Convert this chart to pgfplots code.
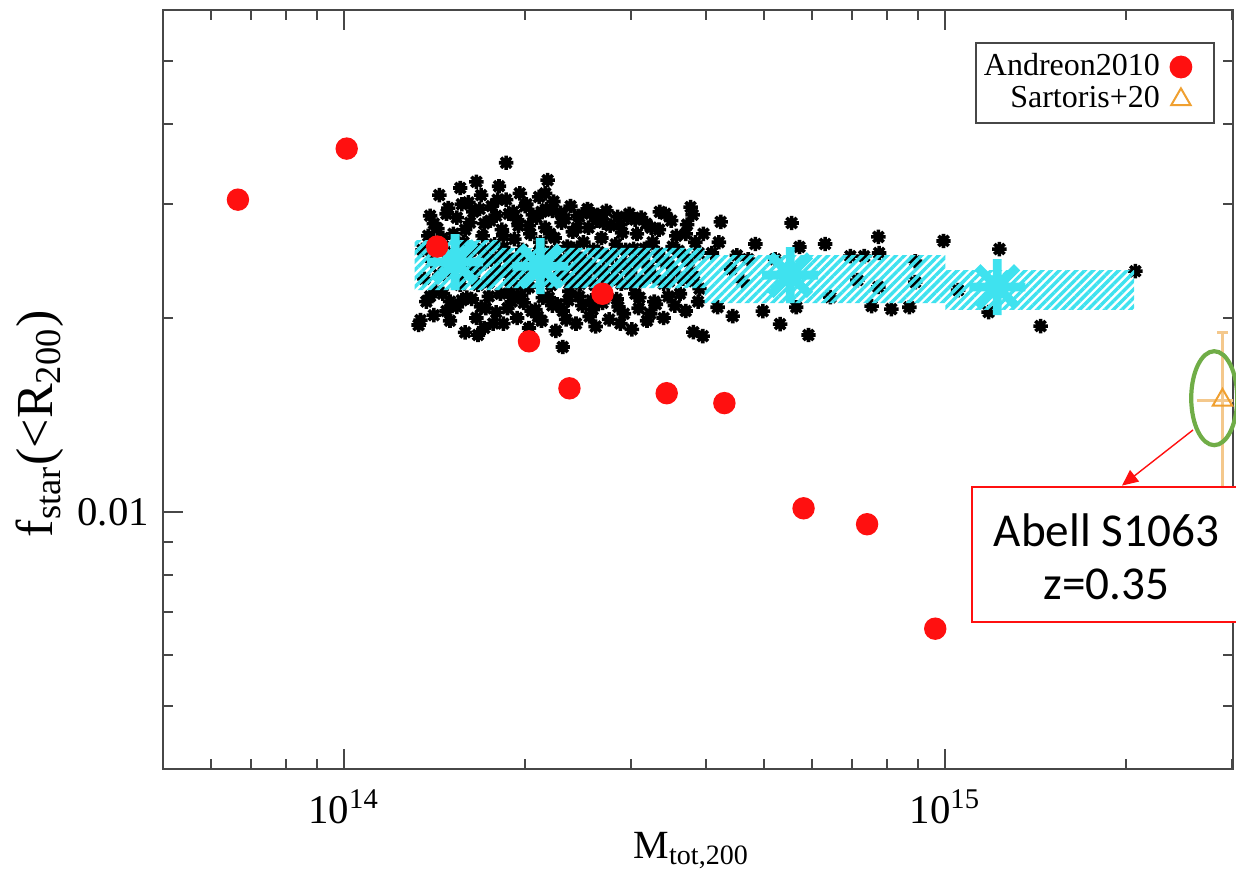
\documentclass[border=0pt]{standalone}
\usepackage{fontspec}
\setmainfont{Liberation Serif}
\newfontfamily\calibri{Carlito}
\usepackage{pgfplots}
\pgfplotsset{compat=1.18}
\usetikzlibrary{patterns.meta, arrows.meta}

\definecolor{ptred}{HTML}{FF1010}
\definecolor{ptcyan}{HTML}{3FE2EF}
\definecolor{ptorange}{HTML}{F0A030}
\definecolor{errorange}{HTML}{F4C88C}
\definecolor{ringgreen}{HTML}{70AD47}
\definecolor{axgray}{HTML}{474747}

% eight-armed asterisk (plus and cross overlaid)
\pgfdeclareplotmark{star8}{%
  \pgfpathmoveto{\pgfqpoint{0pt}{\pgfplotmarksize}}%
  \pgfpathlineto{\pgfqpoint{0pt}{-\pgfplotmarksize}}%
  \pgfpathmoveto{\pgfqpoint{\pgfplotmarksize}{0pt}}%
  \pgfpathlineto{\pgfqpoint{-\pgfplotmarksize}{0pt}}%
  \pgfpathmoveto{\pgfqpoint{0.7071\pgfplotmarksize}{0.7071\pgfplotmarksize}}%
  \pgfpathlineto{\pgfqpoint{-0.7071\pgfplotmarksize}{-0.7071\pgfplotmarksize}}%
  \pgfpathmoveto{\pgfqpoint{-0.7071\pgfplotmarksize}{0.7071\pgfplotmarksize}}%
  \pgfpathlineto{\pgfqpoint{0.7071\pgfplotmarksize}{-0.7071\pgfplotmarksize}}%
  \pgfusepathqstroke}

\begin{document}
\begin{tikzpicture}
\path[use as bounding box] (0pt,0pt) rectangle (309pt,220pt);
\clip (0pt,0pt) rectangle (309pt,220pt);
\begin{axis}[
  at={(40.75pt,27.75pt)}, anchor=south west,
  scale only axis, width=267.5pt, height=189.75pt,
  xmode=log, ymode=log,
  xmin=5e13, xmax=3.01e15, ymin=0.004, ymax=0.06,
  clip mode=individual,
  axis line style={axgray, line width=0.6pt},
  tick style={axgray, line width=0.5pt},
  major tick length=5pt, minor tick length=2.6pt,
  tick align=inside,
  xtick={1e14,1e15},
  xticklabels={10\textsuperscript{14},10\textsuperscript{15}},
  minor xtick={6e13,7e13,8e13,9e13,2e14,3e14,4e14,5e14,6e14,7e14,8e14,9e14,2e15,3e15},
  ytick={0.01}, yticklabels={0.01},
  minor ytick={0.005,0.006,0.007,0.008,0.009,0.02,0.03,0.04,0.05},
  tick label style={font=\fontsize{10.2}{12}\selectfont},
  xticklabel style={anchor=base, yshift=-13.5pt},
  xlabel={M\textsubscript{tot,200}},
  ylabel={f\textsubscript{star}(<R\textsubscript{200})},
  xlabel style={font=\fontsize{10}{12}\selectfont, at={(rel axis cs:0.494,-0.107)}, anchor=center},
  ylabel style={font=\fontsize{13}{15}\selectfont, at={(rel axis cs:-0.115,0.455)}, anchor=center},
  legend plot pos=right,
  legend cell align=right,
  legend image code/.code={\path (-4pt,0pt) (7pt,0pt); \draw[#1] plot coordinates {(0pt,0pt)};},
  legend style={at={(rel axis cs:0.983,0.958)}, anchor=north east,
    draw=axgray, line width=0.5pt, font=\fontsize{8}{8}\selectfont,
    inner xsep=1pt, inner ysep=1.5pt, row sep=-0.8pt,
    nodes={inner sep=1pt}},
]

% simulated clusters
\addplot[only marks, mark=star8, mark size=1.8pt, black, line width=0.9pt, forget plot] table {
x y
1.35e14 0.0255
1.36e14 0.0230
1.38e14 0.0268
1.40e14 0.0245
1.42e14 0.0220
1.43e14 0.0275
1.45e14 0.0258
1.47e14 0.0236
1.48e14 0.0290
1.50e14 0.0212
1.52e14 0.0270
1.53e14 0.0248
1.55e14 0.0228
1.57e14 0.0300
1.58e14 0.0262
1.60e14 0.0215
1.62e14 0.0281
1.63e14 0.0240
1.65e14 0.0256
1.67e14 0.0225
1.68e14 0.0295
1.70e14 0.0268
1.72e14 0.0207
1.73e14 0.0245
1.75e14 0.0283
1.77e14 0.0232
1.78e14 0.0260
1.80e14 0.0305
1.82e14 0.0218
1.83e14 0.0274
1.85e14 0.0250
1.87e14 0.0236
1.88e14 0.0290
1.90e14 0.0212
1.92e14 0.0265
1.93e14 0.0243
1.95e14 0.0278
1.97e14 0.0225
1.98e14 0.0255
2.00e14 0.0298
2.02e14 0.0230
2.04e14 0.0270
2.05e14 0.0205
2.07e14 0.0248
2.09e14 0.0286
2.10e14 0.0238
2.12e14 0.0262
2.14e14 0.0215
2.16e14 0.0276
2.18e14 0.0252
2.20e14 0.0228
2.22e14 0.0293
2.24e14 0.0266
2.26e14 0.0210
2.28e14 0.0244
2.30e14 0.0281
2.32e14 0.0233
2.35e14 0.0258
2.37e14 0.0220
2.40e14 0.0272
2.42e14 0.0249
2.45e14 0.0288
2.47e14 0.0226
2.50e14 0.0262
2.52e14 0.0240
2.55e14 0.0276
2.58e14 0.0213
2.60e14 0.0255
2.63e14 0.0283
2.66e14 0.0235
2.68e14 0.0266
2.71e14 0.0222
2.74e14 0.0248
2.77e14 0.0278
2.80e14 0.0230
2.83e14 0.0260
2.86e14 0.0208
2.90e14 0.0271
2.93e14 0.0243
2.96e14 0.0286
3.00e14 0.0226
3.03e14 0.0256
3.07e14 0.0270
3.10e14 0.0215
3.14e14 0.0248
3.18e14 0.0280
3.22e14 0.0232
3.26e14 0.0262
3.30e14 0.0210
3.34e14 0.0274
3.38e14 0.0245
3.42e14 0.0290
3.47e14 0.0228
3.52e14 0.0258
3.57e14 0.0268
3.62e14 0.0218
3.67e14 0.0250
3.72e14 0.0279
3.78e14 0.0235
3.84e14 0.0262
3.90e14 0.0222
3.96e14 0.0270
1.44e14 0.0233
1.49e14 0.0252
1.51e14 0.0240
1.56e14 0.0225
1.61e14 0.0250
1.64e14 0.0233
1.69e14 0.0242
1.71e14 0.0255
1.74e14 0.0227
1.79e14 0.0247
1.81e14 0.0236
1.84e14 0.0257
1.89e14 0.0228
1.91e14 0.0246
1.96e14 0.0236
1.99e14 0.0250
2.03e14 0.0223
2.06e14 0.0240
2.11e14 0.0253
2.13e14 0.0232
2.17e14 0.0244
2.21e14 0.0225
2.25e14 0.0254
2.29e14 0.0235
2.33e14 0.0246
2.38e14 0.0228
2.41e14 0.0256
2.44e14 0.0238
2.48e14 0.0247
2.53e14 0.0230
2.57e14 0.0242
2.61e14 0.0225
2.65e14 0.0253
2.70e14 0.0237
2.75e14 0.0228
2.79e14 0.0250
2.84e14 0.0239
2.89e14 0.0226
2.94e14 0.0255
2.99e14 0.0235
3.05e14 0.0245
3.11e14 0.0228
3.16e14 0.0256
3.21e14 0.0240
3.28e14 0.0232
3.33e14 0.0252
3.40e14 0.0226
3.45e14 0.0244
3.53e14 0.0236
3.60e14 0.0254
3.66e14 0.0230
3.74e14 0.0245
3.82e14 0.0228
3.89e14 0.0252
1.41e14 0.0280
1.46e14 0.0266
1.54e14 0.0286
1.59e14 0.0274
1.64e14 0.0292
1.71e14 0.0280
1.79e14 0.0288
1.84e14 0.0268
1.94e14 0.0284
2.03e14 0.0278
2.13e14 0.0292
2.20e14 0.0270
2.33e14 0.0285
2.44e14 0.0276
2.57e14 0.0290
2.70e14 0.0281
2.88e14 0.0279
3.05e14 0.0284
3.24e14 0.0276
3.50e14 0.0283
3.70e14 0.0270
1.39e14 0.0216
1.48e14 0.0205
1.57e14 0.0213
1.69e14 0.0208
1.77e14 0.0196
1.87e14 0.0207
1.97e14 0.0217
2.10e14 0.0201
2.22e14 0.0209
2.34e14 0.0199
2.46e14 0.0216
2.59e14 0.0206
2.73e14 0.0217
2.88e14 0.0196
3.05e14 0.0218
3.23e14 0.0203
3.46e14 0.0216
3.70e14 0.0205
3.88e14 0.0212
1.33e14 0.0195
1.37e14 0.0212
1.41e14 0.0202
1.46e14 0.0218
1.50e14 0.0198
1.54e14 0.0208
1.59e14 0.0190
1.63e14 0.0214
1.66e14 0.0200
1.71e14 0.0193
1.74e14 0.0216
1.79e14 0.0204
1.84e14 0.0196
1.89e14 0.0219
1.94e14 0.0200
1.99e14 0.0211
2.03e14 0.0193
2.08e14 0.0206
2.13e14 0.0198
2.19e14 0.0215
2.25e14 0.0191
2.31e14 0.0205
2.36e14 0.0213
2.43e14 0.0196
2.49e14 0.0209
2.56e14 0.0201
2.62e14 0.0194
2.69e14 0.0211
2.76e14 0.0199
2.84e14 0.0214
2.92e14 0.0203
3.01e14 0.0192
3.09e14 0.0207
3.19e14 0.0198
3.28e14 0.0212
3.40e14 0.0200
3.55e14 0.0209
1.39e14 0.0288
1.44e14 0.0310
1.49e14 0.0296
1.56e14 0.0318
1.61e14 0.0302
1.66e14 0.0325
1.69e14 0.0310
1.76e14 0.0298
1.81e14 0.0320
1.86e14 0.0305
1.91e14 0.0292
1.96e14 0.0312
2.01e14 0.0300
2.06e14 0.0289
2.11e14 0.0308
2.17e14 0.0295
2.23e14 0.0303
2.29e14 0.0291
2.38e14 0.0298
2.46e14 0.0287
2.54e14 0.0295
2.64e14 0.0289
2.73e14 0.0293
2.85e14 0.0287
2.98e14 0.0290
3.12e14 0.0286
3.35e14 0.0292
1.86e14 0.0348
2.18e14 0.0327
2.16e14 0.0312
1.34e14 0.01985
1.67e14 0.01882
2.31e14 0.01803
3.77e14 0.0297
3.80e14 0.0289
4.23e14 0.02817
5.55e14 0.02806
4.83e14 0.02604
5.72e14 0.02576
6.31e14 0.02604
7.74e14 0.02670
7.76e14 0.02521
6.95e14 0.02493
7.33e14 0.02493
9.93e14 0.02632
1.23e15 0.02557
2.07e15 0.02363
1.44e15 0.01943
5.92e14 0.01882
5.31e14 0.01957
4.43e14 0.02013
4.97e14 0.02049
7.54e14 0.02086
8.13e14 0.02064
8.71e14 0.02078
4.18e14 0.02078
3.95e14 0.01875
5.65e14 0.02078
1.05e15 0.02209
1.18e15 0.02042
8.91e14 0.02448
8.91e14 0.02273
4.70e14 0.02466
5.21e14 0.02466
6.44e14 0.02154
7.14e14 0.02289
7.74e14 0.02233
4.09e14 0.02521
3.81e14 0.01901
4.40e14 0.0238
4.60e14 0.0228
4.20e14 0.0262
4.50e14 0.0250
};

% binned scatter band
\addplot[draw=none, forget plot,
  pattern={Lines[angle=45, distance=1.5pt, line width=0.85pt]}, pattern color=ptcyan]
  coordinates {
  (1.31e14,0.02209) (1.31e14,0.02641) (1.82e14,0.02641) (1.82e14,0.02567)
  (3.98e14,0.02567) (3.98e14,0.02503) (1.0e15,0.02503) (1.0e15,0.02373)
  (2.06e15,0.02373) (2.06e15,0.02058) (1.0e15,0.02058) (1.0e15,0.02109)
  (3.98e14,0.02109) (3.98e14,0.02225) (1.82e14,0.02225) (1.82e14,0.02209)
  } -- cycle;

% binned medians
\addplot[only marks, mark=star8, mark size=7pt, ptcyan, line width=2.2pt, forget plot]
  coordinates {(1.53e14,0.02441) (2.12e14,0.02405) (5.52e14,0.0233) (1.22e15,0.02233)};

% Andreon 2010
\addplot[only marks, mark=*, mark size=2.6pt, ptred, mark options={draw=ptred, fill=ptred}]
  coordinates {
  (6.66e13,0.0305) (1.01e14,0.0366) (1.428e14,0.0258) (2.69e14,0.0218)
  (2.03e14,0.0184) (2.37e14,0.01556) (3.44e14,0.01529) (4.29e14,0.01476)
  (5.81e14,0.01014) (7.41e14,0.00958) (9.62e14,0.0066)
  };
\addlegendentry{Andreon2010}

% Sartoris+20 error bars
\addplot[errorange, line width=0.75pt, forget plot] coordinates {(2.89e15,0.0108) (2.89e15,0.01902)};
\addplot[errorange, line width=0.75pt, forget plot] coordinates {(2.62e15,0.01492) (3.3e15,0.01492)};
\addplot[errorange, line width=0.75pt, forget plot] coordinates {(2.83e15,0.01902) (2.95e15,0.01902)};
\addplot[only marks, mark=triangle, mark size=2.8pt, ptorange, line width=0.5pt]
  coordinates {(2.89e15,0.01492)};
\addlegendentry{Sartoris+20}

\draw[ringgreen, line width=1.05pt] (axis cs:2.8e15,0.01502) ellipse [x radius=5.75pt, y radius=11.75pt];
\end{axis}

\draw[ptred, line width=0.35pt, -{Triangle[length=4pt, width=3.6pt]}] (298.25pt,112.5pt) -- (280.5pt,98.6pt);
\draw[ptred, line width=0.45pt, fill=white] (243pt,64.5pt) rectangle (310pt,98.25pt);
\node[font=\calibri\fontsize{11.8}{13.25}\selectfont, align=center, inner sep=0pt] at (276.6pt,80.9pt) {Abell S1063\\z=0.35};
\end{tikzpicture}
\end{document}
